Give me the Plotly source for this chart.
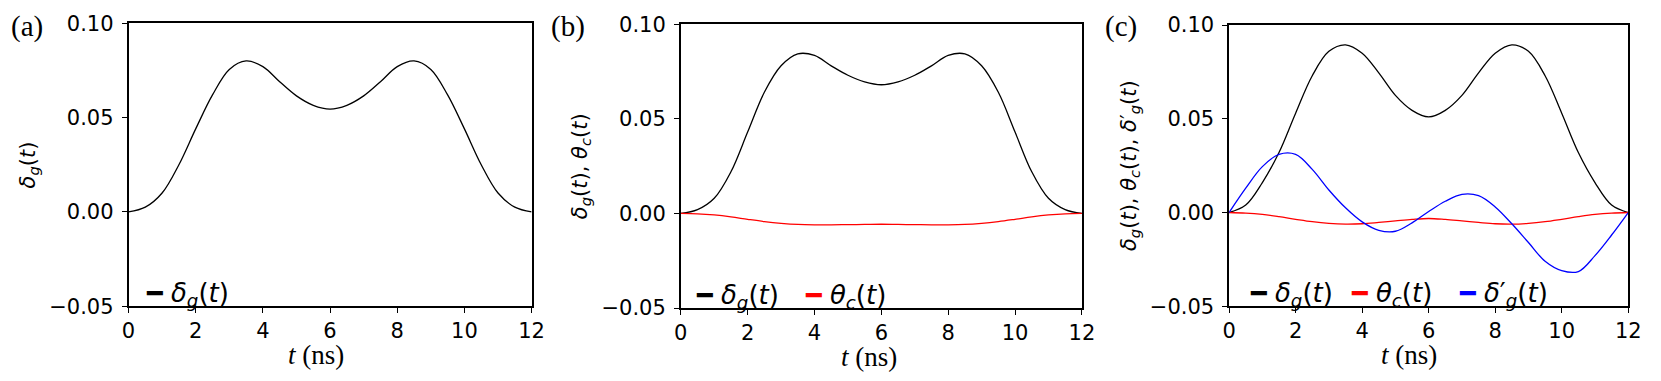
import plotly.graph_objects as go

# time grid (ns)
t = [0, 0.5, 1, 1.5, 2, 2.5, 3, 3.5, 4, 4.5, 5, 5.5, 6,
     6.5, 7, 7.5, 8, 8.5, 9, 9.5, 10, 10.5, 11, 11.5, 12]

# panel (a)
a_delta_g = [0, 0.0025, 0.010, 0.025, 0.044, 0.062, 0.0755, 0.080, 0.077, 0.069, 0.0615, 0.0565, 0.0545,
             0.0565, 0.0615, 0.069, 0.077, 0.080, 0.0755, 0.062, 0.044, 0.025, 0.010, 0.0025, 0]

# panel (b)
b_delta_g = [0, 0.002, 0.008, 0.022, 0.043, 0.064, 0.078, 0.0843, 0.0835, 0.078, 0.073, 0.0695, 0.068,
             0.0695, 0.073, 0.078, 0.0835, 0.0843, 0.078, 0.064, 0.043, 0.022, 0.008, 0.002, 0]
b_theta_c = [0, -0.0002, -0.0008, -0.0018, -0.0031, -0.0043, -0.0052, -0.0058, -0.006, -0.006, -0.0059, -0.0058, -0.0057,
             -0.0058, -0.0059, -0.006, -0.006, -0.0058, -0.0052, -0.0043, -0.0031, -0.0018, -0.0008, -0.0002, 0]

# panel (c)
c_delta_g = [0, 0.004, 0.016, 0.032, 0.053, 0.073, 0.086, 0.0895, 0.085, 0.0745, 0.0625, 0.0545, 0.051,
             0.0545, 0.0625, 0.0745, 0.085, 0.0895, 0.086, 0.073, 0.053, 0.032, 0.016, 0.004, 0]
c_theta_c = [0, -0.0003, -0.001, -0.0022, -0.0036, -0.0049, -0.0058, -0.0062, -0.006, -0.0053, -0.0045, -0.0037, -0.0032,
             -0.0037, -0.0045, -0.0053, -0.006, -0.0062, -0.0058, -0.0049, -0.0036, -0.0022, -0.001, -0.0003, 0]
c_delta_g_prime = [0, 0.013, 0.0245, 0.031, 0.031, 0.023, 0.012, 0.0025, -0.005, -0.0095, -0.010, -0.0055, 0.0005,
                   0.006, 0.0097, 0.009, 0.003, -0.006, -0.016, -0.026, -0.031, -0.0315, -0.023, -0.012, 0]

x_ticks = [0, 2, 4, 6, 8, 10, 12]
y_ticks = [-0.05, 0.0, 0.05, 0.10]

W, H = 1661, 381
# plot boxes in pixels: (left, right, top, bottom)
boxes = [(123, 531, 12, 314), (682, 1088, 13, 316), (1237, 1641, 14, 314)]
panel_labels = ["(a)", "(b)", "(c)"]
label_x = [2, 549, 1109]
ytitles = [
    "<i>δ</i><sub><i>g</i></sub>(<i>t</i>)",
    "<i>δ</i><sub><i>g</i></sub>(<i>t</i>), <i>θ</i><sub><i>c</i></sub>(<i>t</i>)",
    "<i>δ</i><sub><i>g</i></sub>(<i>t</i>), <i>θ</i><sub><i>c</i></sub>(<i>t</i>), <i>δ</i>′<sub><i>g</i></sub>(<i>t</i>)",
]
ytitle_x = [22, 581, 1136]
xtitle_shift = [-14, -12, -20]
xtitle_y = [366, 368, 366]

name_dg = "<i>δ</i><sub><i>g</i></sub>(<i>t</i>)"
name_tc = "<i>θ</i><sub><i>c</i></sub>(<i>t</i>)"
name_dgp = "<i>δ</i>′<sub><i>g</i></sub>(<i>t</i>)"

series = [
    [(a_delta_g, "black", name_dg)],
    [(b_delta_g, "black", name_dg), (b_theta_c, "red", name_tc)],
    [(c_delta_g, "black", name_dg), (c_theta_c, "red", name_tc), (c_delta_g_prime, "blue", name_dgp)],
]
# legend entry positions (px from left) and row centre (px from top)
legend_x = [[139], [695, 806], [1256, 1358, 1468]]
legend_y = [302, 304, 301]

fig = go.Figure()

for i, (box, sers) in enumerate(zip(boxes, series)):
    n = "" if i == 0 else str(i + 1)
    xa, ya = "x" + n, "y" + n
    for j, (vals, color, name) in enumerate(sers):
        fig.add_trace(go.Scatter(x=t, y=vals, mode="lines", name=name,
                                 line=dict(color=color, width=1.3, shape="spline"),
                                 xaxis=xa, yaxis=ya, showlegend=False))
        # legend entry: short thick handle + label
        fig.add_annotation(x=legend_x[i][j] / W, y=(H - legend_y[i]) / H, xref="paper", yref="paper",
                           text=f'<span style="color:{color}">━</span> {name}', showarrow=False,
                           xanchor="left", yanchor="middle",
                           font=dict(family="DejaVu Sans", size=26, color="black"))

    l, r, tp, b = box
    dom_x = [l / W, r / W]
    dom_y = [(H - b) / H, (H - tp) / H]
    axis_style = dict(showline=True, linecolor="black", linewidth=1.5, mirror=True,
                      ticks="outside", ticklen=5, tickwidth=1.3, tickcolor="black",
                      showgrid=False, zeroline=False,
                      tickfont=dict(family="DejaVu Sans", size=21, color="black"))
    fig.layout["xaxis" + n] = dict(domain=dom_x, range=[0, 12], tickvals=x_ticks, anchor=ya, **axis_style)
    fig.layout["yaxis" + n] = dict(domain=dom_y, range=[-0.05, 0.10], tickvals=y_ticks, tickformat=".2f",
                                   ticklabelstandoff=4, anchor=xa, **axis_style)

    # x title
    fig.add_annotation(x=((l + r) / 2 + xtitle_shift[i]) / W, y=(H - xtitle_y[i]) / H, xref="paper", yref="paper",
                       text="<i>t</i> (ns)", showarrow=False, xanchor="center", yanchor="middle",
                       font=dict(family="Liberation Serif", size=27, color="black"))
    # y title
    fig.add_annotation(x=ytitle_x[i] / W, y=(H - (tp + b) / 2) / H, xref="paper", yref="paper",
                       text=ytitles[i], textangle=-90, showarrow=False, xanchor="center", yanchor="middle",
                       font=dict(family="DejaVu Sans", size=21, color="black"))
    # panel label
    fig.add_annotation(x=label_x[i] / W, y=(H - 15) / H, xref="paper", yref="paper",
                       text=panel_labels[i], showarrow=False, xanchor="left", yanchor="middle",
                       font=dict(family="Liberation Serif", size=29, color="black"))

fig.update_layout(width=W, height=H, margin=dict(l=0, r=0, t=0, b=0),
                  paper_bgcolor="white", plot_bgcolor="white", showlegend=False)

fig.write_html("out.html", config={"displayModeBar": False},
               post_script="document.body.style.margin='0';document.body.style.overflow='hidden';")
